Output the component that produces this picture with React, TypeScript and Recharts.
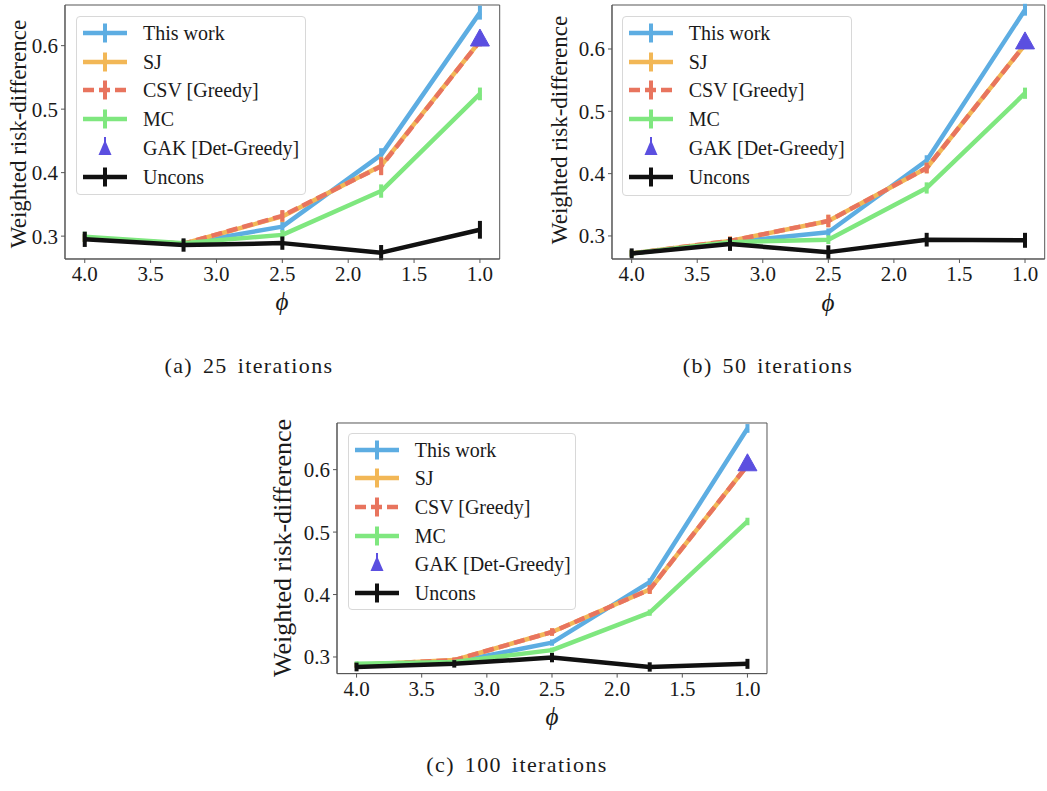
import React from "react";
import { ComposedChart, Line, XAxis, YAxis, ErrorBar, ReferenceArea } from "recharts";

const PHI = [4.0, 3.25, 2.5, 1.75, 1.0];
const X_TICKS = [4.0, 3.5, 3.0, 2.5, 2.0, 1.5, 1.0];
const Y_TICKS = [0.3, 0.4, 0.5, 0.6];
const SERIES_NAMES = ["This work", "SJ", "CSV [Greedy]", "MC", "GAK [Det-Greedy]", "Uncons"];
const CAPTIONS = ["(a) 25 iterations", "(b) 50 iterations", "(c) 100 iterations"];
const Y_LABEL = "Weighted risk-difference";
const X_LABEL = "ϕ";

// (a) 25 iterations
const THIS_WORK_25 = [0.297, 0.288, 0.315, 0.428, 0.652];
const THIS_WORK_ERR_25 = [0.006, 0.005, 0.008, 0.0105, 0.011];
const SJ_25 = [0.297, 0.288, 0.331, 0.411, 0.607];
const SJ_ERR_25 = [0.006, 0.005, 0.009, 0.014, 0.008];
const CSV_25 = [0.297, 0.288, 0.332, 0.41, 0.607];
const CSV_ERR_25 = [0.006, 0.005, 0.009, 0.014, 0.008];
const MC_25 = [0.299, 0.289, 0.302, 0.371, 0.524];
const MC_ERR_25 = [0.008, 0.006, 0.0075, 0.0105, 0.01];
const UNCONS_25 = [0.295, 0.286, 0.289, 0.274, 0.31];
const UNCONS_ERR_25 = [0.012, 0.0105, 0.0105, 0.012, 0.014];
const GAK_25 = 0.612;

// (b) 50 iterations
const THIS_WORK_50 = [0.272, 0.29, 0.306, 0.421, 0.663];
const THIS_WORK_ERR_50 = [0.005, 0.006, 0.006, 0.0085, 0.0095];
const SJ_50 = [0.272, 0.292, 0.324, 0.409, 0.607];
const SJ_ERR_50 = [0.005, 0.007, 0.01, 0.0085, 0.007];
const CSV_50 = [0.272, 0.292, 0.324, 0.409, 0.607];
const CSV_ERR_50 = [0.005, 0.007, 0.01, 0.0085, 0.007];
const MC_50 = [0.272, 0.29, 0.294, 0.377, 0.529];
const MC_ERR_50 = [0.005, 0.005, 0.007, 0.009, 0.009];
const UNCONS_50 = [0.272, 0.287, 0.274, 0.294, 0.293];
const UNCONS_ERR_50 = [0.008, 0.011, 0.011, 0.011, 0.012];
const GAK_50 = 0.613;

// (c) 100 iterations
const THIS_WORK_100 = [0.287, 0.292, 0.323, 0.42, 0.666];
const THIS_WORK_ERR_100 = [0.004, 0.004, 0.005, 0.006, 0.007];
const SJ_100 = [0.287, 0.295, 0.34, 0.408, 0.607];
const SJ_ERR_100 = [0.004, 0.004, 0.006, 0.007, 0.005];
const CSV_100 = [0.287, 0.295, 0.34, 0.408, 0.607];
const CSV_ERR_100 = [0.004, 0.004, 0.006, 0.007, 0.005];
const MC_100 = [0.289, 0.292, 0.311, 0.371, 0.517];
const MC_ERR_100 = [0.004, 0.003, 0.004, 0.005, 0.006];
const UNCONS_100 = [0.284, 0.289, 0.299, 0.284, 0.289];
const UNCONS_ERR_100 = [0.007, 0.006, 0.0075, 0.0075, 0.008];
const GAK_100 = 0.611;

const GAK_ERR = 0.007;

const COLORS = {
  tw: "#5dade2",
  sj: "#f2b756",
  csv: "#e8745e",
  mc: "#7fe77f",
  gak: "#5b4fe0",
  un: "#111111",
};

const FONT = '"Liberation Serif"';

function buildRows(tw, twE, sj, sjE, csv, csvE, mc, mcE, un, unE, gak) {
  return PHI.map((phi, i) => ({
    phi,
    tw: tw[i], twE: twE[i],
    sj: sj[i], sjE: sjE[i],
    csv: csv[i], csvE: csvE[i],
    mc: mc[i], mcE: mcE[i],
    un: un[i], unE: unE[i],
    gak: phi === 1.0 ? gak : null,
    gakE: phi === 1.0 ? GAK_ERR : null,
  }));
}

const ROWS_25 = buildRows(THIS_WORK_25, THIS_WORK_ERR_25, SJ_25, SJ_ERR_25, CSV_25, CSV_ERR_25, MC_25, MC_ERR_25, UNCONS_25, UNCONS_ERR_25, GAK_25);
const ROWS_50 = buildRows(THIS_WORK_50, THIS_WORK_ERR_50, SJ_50, SJ_ERR_50, CSV_50, CSV_ERR_50, MC_50, MC_ERR_50, UNCONS_50, UNCONS_ERR_50, GAK_50);
const ROWS_100 = buildRows(THIS_WORK_100, THIS_WORK_ERR_100, SJ_100, SJ_ERR_100, CSV_100, CSV_ERR_100, MC_100, MC_ERR_100, UNCONS_100, UNCONS_ERR_100, GAK_100);

const Triangle = (props: any) => {
  const { cx, cy, payload, index } = props;
  if (cy == null || payload == null || payload.gak == null) return <g key={`t${index}`} />;
  return (
    <path
      key={`t${index}`}
      d={`M${cx},${cy - 9} L${cx - 9.5},${cy + 8} L${cx + 9.5},${cy + 8} Z`}
      fill={COLORS.gak}
      stroke={COLORS.gak}
      strokeWidth={1}
    />
  );
};

const LEGEND_KEYS = ["tw", "sj", "csv", "mc", "gak", "un"];

function LegendSample({ k }: { k: string }) {
  if (k === "gak") {
    return (
      <svg width={50} height={26}>
        <line x1={25} y1={2} x2={25} y2={14} stroke={COLORS.gak} strokeWidth={2} />
        <path d="M25,5 L18.5,20 L31.5,20 Z" fill={COLORS.gak} />
      </svg>
    );
  }
  const dash = k === "csv" ? "11 5" : undefined;
  return (
    <svg width={50} height={26}>
      <line x1={3} y1={13} x2={47} y2={13} stroke={(COLORS as any)[k]} strokeWidth={4.5} strokeDasharray={dash} />
      <line x1={25} y1={3.5} x2={25} y2={22.5} stroke={(COLORS as any)[k]} strokeWidth={4} />
    </svg>
  );
}

function Panel({ rows, box, yDomain, legend, yLabel, phi, caption }: any) {
  const ML = 60;
  const MT = 5;
  const MR = 5;
  const XH = 30;
  const plotW = box.right - box.left;
  const plotH = box.bottom - box.top;
  const W = ML + plotW + MR;
  const H = MT + plotH + XH;
  const tick = { fontSize: 21, fill: "#1a1a1a", fontFamily: FONT };
  const lineProps = { type: "linear" as const, dot: false, isAnimationActive: false, strokeWidth: 4.5, strokeLinejoin: "round" as const };
  const errProps = { width: 0, strokeWidth: 4, direction: "y" as const, isAnimationActive: false };
  return (
    <>
      <div style={{ position: "absolute", left: box.left - ML, top: box.top - MT, width: W, height: H }}>
        <ComposedChart width={W} height={H} data={rows} margin={{ top: MT, right: MR, left: 0, bottom: 0 }}>
          <XAxis
            type="number"
            dataKey="phi"
            domain={[0.85, 4.15]}
            reversed
            allowDataOverflow
            ticks={X_TICKS}
            tickFormatter={(v: number) => v.toFixed(1)}
            height={XH}
            tick={tick}
            tickSize={4}
            tickMargin={3}
            stroke="#555"
          />
          <YAxis
            type="number"
            domain={yDomain}
            allowDataOverflow
            ticks={Y_TICKS}
            tickFormatter={(v: number) => v.toFixed(1)}
            width={ML}
            tick={tick}
            tickSize={4}
            tickMargin={3}
            stroke="#555"
          />
          <Line dataKey="tw" stroke={COLORS.tw} {...lineProps}>
            <ErrorBar dataKey="twE" stroke={COLORS.tw} {...errProps} />
          </Line>
          <Line dataKey="sj" stroke={COLORS.sj} {...lineProps}>
            <ErrorBar dataKey="sjE" stroke={COLORS.sj} {...errProps} />
          </Line>
          <Line dataKey="csv" stroke={COLORS.csv} strokeDasharray="11 5" {...lineProps}>
            <ErrorBar dataKey="csvE" stroke={COLORS.csv} {...errProps} />
          </Line>
          <Line dataKey="mc" stroke={COLORS.mc} {...lineProps}>
            <ErrorBar dataKey="mcE" stroke={COLORS.mc} {...errProps} />
          </Line>
          <Line dataKey="gak" stroke="none" type="linear" isAnimationActive={false} dot={Triangle} activeDot={false}>
            <ErrorBar dataKey="gakE" stroke={COLORS.gak} width={0} strokeWidth={3} direction="y" isAnimationActive={false} />
          </Line>
          <Line dataKey="un" stroke={COLORS.un} {...lineProps}>
            <ErrorBar dataKey="unE" stroke={COLORS.un} {...errProps} />
          </Line>
          <ReferenceArea
            x1={0.85}
            x2={4.15}
            y1={yDomain[0]}
            y2={yDomain[1]}
            fill="none"
            fillOpacity={0}
            stroke="#555"
            strokeWidth={1}
            ifOverflow="visible"
          />
        </ComposedChart>
      </div>

      {/* legend */}
      <div
        style={{
          position: "absolute",
          left: legend.left,
          top: legend.top,
          width: legend.w,
          height: legend.h,
          boxSizing: "border-box",
          border: "1px solid #d8d8d8",
          borderRadius: 4,
          background: "rgba(255,255,255,0.8)",
        }}
      >
        {LEGEND_KEYS.map((k, i) => (
          <div
            key={k}
            style={{
              position: "absolute",
              left: 3,
              top: 16 + i * legend.step - 13,
              height: 26,
              display: "flex",
              alignItems: "center",
              whiteSpace: "nowrap",
            }}
          >
            <LegendSample k={k} />
            <span style={{ marginLeft: 13, fontSize: 20, fontFamily: FONT, color: "#1a1a1a", lineHeight: 1 }}>{SERIES_NAMES[i]}</span>
          </div>
        ))}
      </div>

      {/* y label */}
      <div
        style={{
          position: "absolute",
          left: yLabel.x,
          top: yLabel.y,
          transform: "translate(-50%, -50%) rotate(-90deg)",
          whiteSpace: "nowrap",
          fontSize: yLabel.size,
          fontFamily: FONT,
          color: "#1a1a1a",
          lineHeight: 1,
        }}
      >
        {Y_LABEL}
      </div>

      {/* x label */}
      <div
        style={{
          position: "absolute",
          left: phi.x,
          top: phi.y,
          transform: "translate(-50%, -50%)",
          fontSize: 25,
          fontStyle: "italic",
          fontFamily: FONT,
          color: "#1a1a1a",
          lineHeight: 0.9,
        }}
      >
        {X_LABEL}
      </div>

      {/* caption */}
      <div
        style={{
          position: "absolute",
          left: caption.x,
          top: caption.y,
          transform: "translate(-50%, -50%)",
          whiteSpace: "nowrap",
          fontSize: 22,
          letterSpacing: 1.4,
          wordSpacing: 3,
          fontFamily: FONT,
          color: "#1a1a1a",
          lineHeight: 1,
        }}
      >
        {caption.text}
      </div>
    </>
  );
}

export default function App() {
  return (
    <div style={{ position: "absolute", left: 0, top: 0, width: 1047, height: 791, background: "#fff", overflow: "hidden" }}>
      <Panel
        rows={ROWS_25}
        box={{ left: 65, top: 5, right: 499.7, bottom: 259 }}
        yDomain={[0.264, 0.664]}
        legend={{ left: 76, top: 15.7, w: 230, h: 179.5, step: 28.9 }}
        yLabel={{ x: 18, y: 134, size: 23 }}
        phi={{ x: 282, y: 302 }}
        caption={{ x: 249, y: 366, text: CAPTIONS[0] }}
      />
      <Panel
        rows={ROWS_50}
        box={{ left: 612, top: 5, right: 1044.7, bottom: 259 }}
        yDomain={[0.263, 0.6706]}
        legend={{ left: 621.7, top: 15.7, w: 230, h: 180, step: 28.9 }}
        yLabel={{ x: 559, y: 130, size: 23 }}
        phi={{ x: 828, y: 303 }}
        caption={{ x: 768, y: 366, text: CAPTIONS[1] }}
      />
      <Panel
        rows={ROWS_100}
        box={{ left: 337.3, top: 422.7, right: 767.3, bottom: 673.3 }}
        yDomain={[0.2734, 0.6747]}
        legend={{ left: 347.7, top: 432.7, w: 228.3, h: 177.3, step: 28.7 }}
        yLabel={{ x: 283, y: 548, size: 26 }}
        phi={{ x: 552, y: 717 }}
        caption={{ x: 517, y: 765, text: CAPTIONS[2] }}
      />
    </div>
  );
}
